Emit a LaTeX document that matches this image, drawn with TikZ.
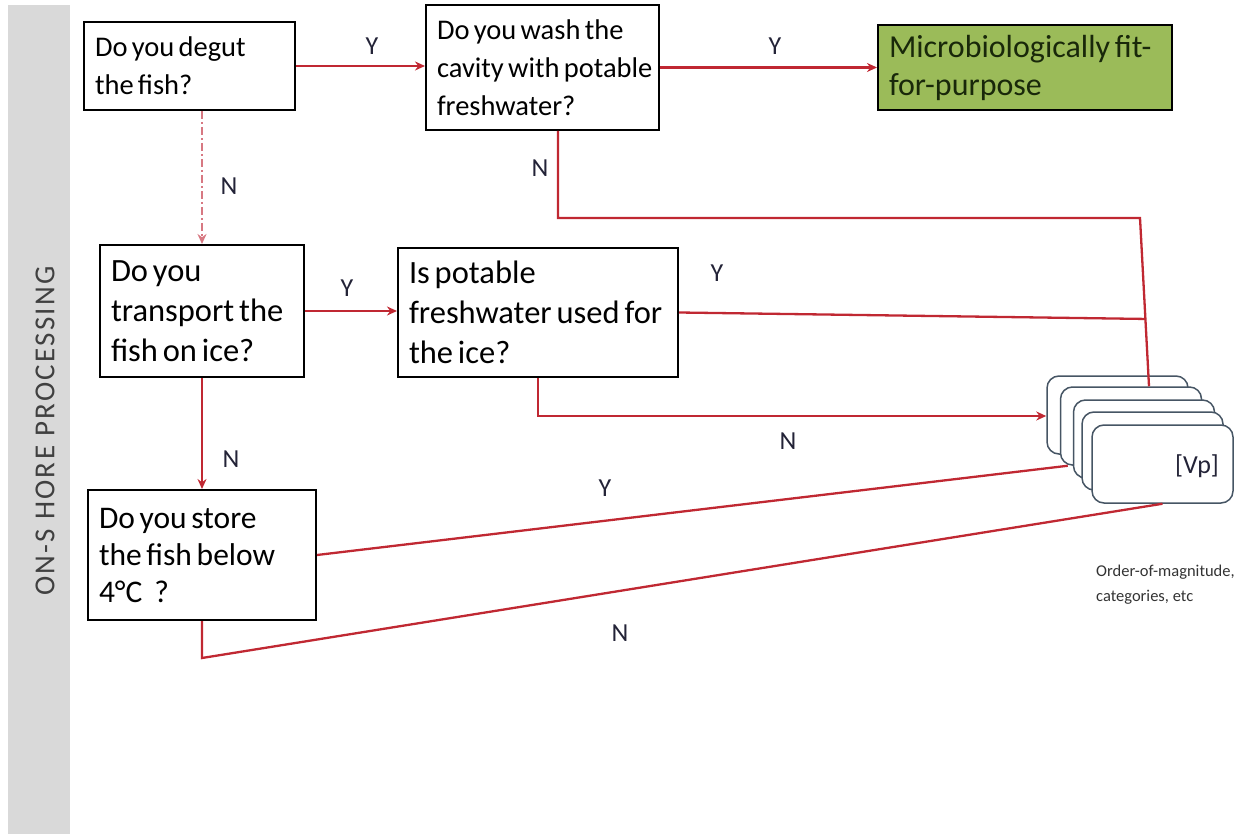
\documentclass[tikz,border=0pt]{standalone}
\usepackage{fontspec}
\setmainfont{Carlito}
\newfontfamily\bandfont{Carlito}[LetterSpace=8]
\usetikzlibrary{arrows.meta,calc}
\definecolor{ln}{RGB}{192,40,50}
\definecolor{dashln}{RGB}{215,120,130}
\definecolor{band}{RGB}{217,217,217}
\definecolor{bandtext}{RGB}{64,64,64}
\definecolor{greenfill}{RGB}{155,187,89}
\definecolor{greentext}{RGB}{25,40,10}
\definecolor{stackline}{RGB}{70,85,100}
\definecolor{lbl}{RGB}{35,35,55}
\newcommand{\qfont}[2]{\fontsize{#1}{#2}\selectfont}
\begin{document}
\begin{tikzpicture}[x=1pt,y=-1pt,
  qbox/.style={draw=black, line width=2pt, fill=white, align=left, inner xsep=11pt, inner ysep=0pt,
    font=\qfont{28.5}{38}, text=black, execute at begin node={\spaceskip=0.15em plus 0.05em\relax}},
  bigtext/.style={font=\qfont{32.5}{40}},
  conn/.style={draw=ln, line width=2.3pt},
  arr/.style={conn, -{Stealth[length=10pt,width=9pt]}},
  dashconn/.style={draw=dashln, line width=2.3pt, dash pattern=on 8pt off 3pt on 2pt off 3pt, -{Stealth[length=10pt,width=9pt,open]}},
  lab/.style={font=\fontsize{26}{28}\selectfont, text=lbl, inner sep=0pt},
  stk/.style={draw=stackline, line width=1.5pt, fill=white, rounded corners=12pt, minimum width=141pt, minimum height=78pt, inner sep=0pt}
]
\useasboundingbox (0,0) rectangle (1236,834);
% side band
\fill[band] (8,5) rectangle (70,834);
\node[rotate=90, text=bandtext, font=\bandfont\fontsize{29}{30}\selectfont, inner sep=0pt] (bandlbl) at (45,431) {ON-S HORE PROCESSING};

% question boxes
\node[qbox, minimum width=211pt, text width=189pt, minimum height=88pt] (b1) at (189.5,66) {\mbox{Do you degut}\\\mbox{the fish?}};
\node[qbox, minimum width=233pt, text width=211pt, minimum height=125pt] (b2) at (542.5,67.5) {\mbox{Do you wash the}\\\mbox{cavity with potable}\\\mbox{freshwater?}};
\node[qbox, fill=greenfill, text=greentext, font=\qfont{32}{38}, minimum width=294pt, text width=272pt, minimum height=85pt] (g) at (1025,67.5) {\mbox{Microbiologically fit-}\\\mbox{for-purpose}};
\node[qbox, bigtext, minimum width=204pt, text width=182pt, minimum height=132pt] (b3) at (202,311) {\mbox{Do you}\\\mbox{transport the}\\\mbox{fish on ice?}};
\node[qbox, bigtext, minimum width=280pt, text width=258pt, minimum height=129pt] (b4) at (538,312.5) {\mbox{Is potable}\\\mbox{freshwater used for}\\\mbox{the ice?}};
\node[qbox, font=\qfont{31.5}{37}, minimum width=228pt, text width=206pt, minimum height=130pt] (b5) at (202,555) {\mbox{Do you store}\\\mbox{the fish below}\\\mbox{4\textdegree C\hspace{12pt}?}};

% stacked result cards
\node[stk] (s1) at (1117.5,415) {};
\node[stk] (s2) at (1131,426) {};
\node[stk] (s3) at (1144,439) {};
\node[stk] (s4) at (1152.5,451) {};
\node[stk] (s5) at (1162.5,464) {};
\node[font=\fontsize{26}{28}\selectfont, text=lbl, inner sep=0pt] (vp) at (1197,466) {[Vp]};
\node[anchor=north west, align=left, font=\fontsize{16.5}{25}\selectfont, text=black!80, inner sep=0pt] (note) at (1096,565) {Order-of-magnitude,\\categories, etc};

% connectors
\draw[arr] (b1.east) -- (b1.east -| b2.west);
\draw[arr] (b2.east) -- (g.west);
\draw[dashconn] (b1.south -| b3.north) -- (b3.north);
\draw[arr] (b3.east) -- (b3.east -| b4.west);
\draw[arr] (b3.south) -- (b5.north);

\coordinate (c0) at ([xshift=15.5pt]b2.south);
\coordinate (c1) at (1140,218);
\coordinate (c2) at ([xshift=18pt]s2.north);
\coordinate (j) at ($(c1)!0.6!(c2)$);
\draw[conn] (c0) -- (c0 |- c1) -- (c1) -- (c2);
\draw[conn] (b4.east) -- (j);
\coordinate (c3) at ([yshift=-38pt]b4.south);
\draw[arr] (b4.south) -- (c3) -- (c3 -| s1.west);
\draw[conn] (b5.east) -- ([xshift=8pt]s2.south west);
\coordinate (c4) at ([yshift=-37pt]b5.south);
\draw[conn] (b5.south) -- (c4) -- (s5.south);

% labels
\node[lab] (y1) at (372,46) {Y};
\node[lab] (y2) at (775,46) {Y};
\node[lab] (n1) at (229,186) {N};
\node[lab] (n2) at (540,168) {N};
\node[lab] (y3) at (347,288) {Y};
\node[lab] (y4) at (717,273) {Y};
\node[lab] (n3) at (231,459) {N};
\node[lab] (n4) at (788,441) {N};
\node[lab] (y5) at (605,488) {Y};
\node[lab] (n5) at (620,633) {N};
\end{tikzpicture}
\end{document}
